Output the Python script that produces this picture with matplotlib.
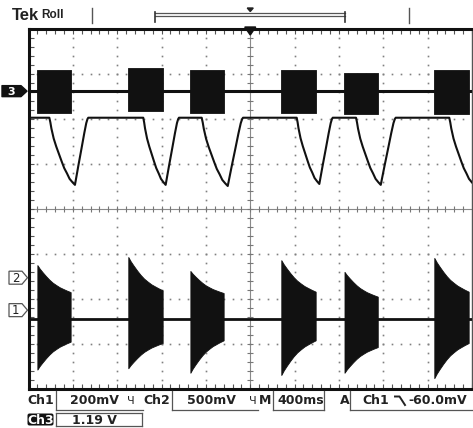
import numpy as np
import matplotlib
matplotlib.use("Agg")
import matplotlib.pyplot as plt
from matplotlib.patches import Polygon, FancyBboxPatch

W, H, DPI = 473, 428, 100

# ---- time base / screen ----
TIME_PER_DIV = 0.4          # s/div (400 ms)
N_XDIV, N_YDIV = 10, 8
MINOR_PER_DIV = 5

# ---- burst windows (s), shared by Ch1 and Ch3 ----
BURST_START = [0.08, 0.90, 1.46, 2.28, 2.85, 3.66]
BURST_END = [0.38, 1.21, 1.76, 2.59, 3.15, 3.97]

# ---- Ch1 (divisions) ----
CH1_BASELINE = -2.45
CH1_TOP_START = [1.20, 1.38, 1.07, 1.31, 1.05, 1.36]
CH1_TOP_END = [0.60, 0.64, 0.58, 0.61, 0.50, 0.61]
CH1_BOT_START = [-1.12, -1.09, -1.19, -1.24, -1.19, -1.31]
CH1_BOT_END = [-0.50, -0.53, -0.47, -0.47, -0.62, -0.53]
ENV_U = [0.0, 0.07, 0.155, 0.26, 0.36, 0.46, 0.567, 0.67, 0.773, 0.88, 1.0]
ENV_F = [0.0, 0.13, 0.26, 0.41, 0.54, 0.65, 0.74, 0.82, 0.88, 0.94, 1.0]

# ---- Ch3 (divisions) ----
CH3_BASELINE = 2.61
CH3_TOP = [3.08, 3.12, 3.08, 3.08, 3.01, 3.08]
CH3_BOT = [2.13, 2.16, 2.12, 2.13, 2.10, 2.10]

# ---- Ch2 (divisions) ----
CH2_HIGH = 2.02
DIP_START = [0.188, 1.035, 1.562, 2.419, 2.954, 3.795]
DIP_MIN_T = [0.419, 1.237, 1.797, 2.623, 3.177, 4.02]
DIP_END = [0.539, 1.357, 1.935, 2.744, 3.312, 4.14]
DIP_LOW = [0.53, 0.53, 0.505, 0.55, 0.53, 0.53]
FALL_U = [0.0, 0.04, 0.08, 0.17, 0.27, 0.375, 0.48, 0.58, 0.69, 0.79, 0.9, 1.0]
FALL_F = [0.0, 0.07, 0.16, 0.31, 0.43, 0.54, 0.65, 0.75, 0.83, 0.91, 0.96, 1.0]
RISE_U = [0.0, 0.25, 0.5, 0.7, 0.85, 0.94, 1.0]
RISE_F = [0.0, 0.28, 0.55, 0.77, 0.92, 0.98, 1.0]

# ---- channel ground markers (divisions) ----
MARKER_LEVEL = {"3": 2.61, "2": -1.53, "1": -2.25}

# ---- readout texts ----
ROW1 = [("Ch1", 27), ("200mV", 70), ("Ch2", 143), ("500mV", 187), ("M", 259),
        ("400ms", 277), ("A", 340), ("Ch1", 362), ("-60.0mV", 408)]
BW_SYMBOL_X = [127, 249]
ROW2_VALUE = "1.19 V"

fig = plt.figure(figsize=(W / DPI, H / DPI), dpi=DPI)
fig.patch.set_facecolor("white")

x0, x1, y0, y1 = 28.5, 472.0, 28.5, 389.0
ax = fig.add_axes([x0 / W, 1 - y1 / H, (x1 - x0) / W, (y1 - y0) / H])
T_END = TIME_PER_DIV * N_XDIV
ax.set_xlim(0, T_END)
ax.set_ylim(-N_YDIV / 2, N_YDIV / 2)
ax.set_facecolor("white")

# spines
for s in ["left", "top", "bottom"]:
    ax.spines[s].set_linewidth(2.2)
    ax.spines[s].set_color("#111111")
ax.spines["right"].set_linewidth(1.0)
ax.spines["right"].set_color("#555555")

ax.set_xticks([])
ax.set_yticks([])
ax.set_xticks(np.arange(0, T_END + 1e-9, TIME_PER_DIV / MINOR_PER_DIV), minor=True)
ax.set_yticks(np.arange(-4, 4 + 1e-9, 1 / MINOR_PER_DIV), minor=True)
ax.tick_params(which="minor", direction="in", length=3.5, width=0.8, color="#555555",
               top=True, bottom=True, left=True, right=False,
               labelbottom=False, labelleft=False)

# dotted graticule
gx = [k * TIME_PER_DIV for k in range(1, N_XDIV) if k != N_XDIV // 2]
gy = [k for k in range(-3, 4) if k != 0]
dots_y = np.arange(-4, 4 + 1e-9, 1 / MINOR_PER_DIV)[1:-1]
dots_x = np.arange(0, T_END + 1e-9, TIME_PER_DIV / MINOR_PER_DIV)[1:-1]
for xv in gx:
    ax.plot([xv] * len(dots_y), dots_y, ls="none", marker="s", ms=1.2,
            mec="none", mfc="#808080", zorder=1)
for yv in gy:
    ax.plot(dots_x, [yv] * len(dots_x), ls="none", marker="s", ms=1.2,
            mec="none", mfc="#808080", zorder=1)

# centre cross with ticks
tc = T_END / 2
ax.axhline(0, color="#8a8a8a", lw=0.8, zorder=1)
ax.axvline(tc, color="#8a8a8a", lw=0.8, zorder=1)
ax.plot(dots_x, np.zeros_like(dots_x), ls="none", marker="|", ms=4.5, mew=0.8,
        color="#777777", zorder=1)
ax.plot(np.full_like(dots_y, tc), dots_y, ls="none", marker="_", ms=4.5, mew=0.8,
        color="#777777", zorder=1)

TRACE = "#111111"

# ---- Ch3 ----
ax.plot([0, T_END], [CH3_BASELINE, CH3_BASELINE], color=TRACE, lw=2.2, zorder=3)
for s, e, top, bot in zip(BURST_START, BURST_END, CH3_TOP, CH3_BOT):
    ax.fill_between([s, e], [bot, bot], [top, top], color=TRACE, lw=0.6, zorder=3)

# ---- Ch1 ----
ax.plot([0, T_END], [CH1_BASELINE, CH1_BASELINE], color=TRACE, lw=2.0, zorder=3)
u = np.array(ENV_U)
f = np.array(ENV_F)
for i in range(len(BURST_START)):
    s, e = BURST_START[i], BURST_END[i]
    t = s + u * (e - s)
    top = CH1_BASELINE + CH1_TOP_START[i] + (CH1_TOP_END[i] - CH1_TOP_START[i]) * f
    bot = CH1_BASELINE + CH1_BOT_START[i] + (CH1_BOT_END[i] - CH1_BOT_START[i]) * f
    ax.fill_between(t, bot, top, color=TRACE, lw=0.6, zorder=3)

# ---- Ch2 ----
ts, vs = [0.0], [CH2_HIGH]
for s, m, e, lo in zip(DIP_START, DIP_MIN_T, DIP_END, DIP_LOW):
    for uu, ff in zip(FALL_U, FALL_F):
        ts.append(s + uu * (m - s))
        vs.append(CH2_HIGH - ff * (CH2_HIGH - lo))
    for uu, ff in zip(RISE_U[1:], RISE_F[1:]):
        ts.append(m + uu * (e - m))
        vs.append(lo + ff * (CH2_HIGH - lo))
ax.plot(ts, vs, color=TRACE, lw=1.5, zorder=3, solid_joinstyle="round")

# ---------------- overlay (pixel coordinates) ----------------
ov = fig.add_axes([0, 0, 1, 1], zorder=5)
ov.set_xlim(0, W)
ov.set_ylim(H, 0)
ov.axis("off")
ov.patch.set_alpha(0)


def ypix(level):
    return H - ax.transData.transform((0, level))[1]


def xpix(t):
    return ax.transData.transform((t, 0))[0]


GRAY = "#555555"
TXT = "#222222"

# header
ov.text(12, 15.5, "Tek", fontsize=12, fontweight="bold", family="Liberation Sans",
        color=TXT, va="center", ha="left")
ov.text(41, 15, "Roll", fontsize=8.5, fontweight="bold", family="Liberation Sans",
        color=TXT, va="center", ha="left")
for xv in [92, 409]:
    ov.plot([xv, xv], [8, 23], color=GRAY, lw=1.0)
ov.plot([155, 345], [12.8, 12.8], color=GRAY, lw=0.9)
ov.plot([155, 345], [15.6, 15.6], color=GRAY, lw=0.9)
ov.plot([155, 155], [11.5, 22], color="#333333", lw=1.2)
ov.plot([345, 345], [11.5, 22], color="#333333", lw=1.2)
xc = xpix(T_END / 2)
ov.add_patch(Polygon([(xc - 3, 8), (xc + 3, 8), (xc, 11.5)], closed=True, color="#222222"))
ov.add_patch(Polygon([(xc - 5.5, 27), (xc + 5.5, 27), (xc, 35)], closed=True, color="#111111"))

# channel markers
c = ypix(MARKER_LEVEL["3"])
ov.add_patch(Polygon([(2, c - 5.5), (21, c - 5.5), (27, c), (21, c + 5.5), (2, c + 5.5)],
                     closed=True, color="#111111", joinstyle="round"))
ov.text(11.5, c + 0.5, "3", color="white", fontsize=8, fontweight="bold",
        ha="center", va="center")
for ch in ["2", "1"]:
    c = ypix(MARKER_LEVEL[ch])
    ov.add_patch(Polygon([(9, c - 6.5), (22, c - 6.5), (27.5, c), (22, c + 6.5), (9, c + 6.5)],
                         closed=True, fc="white", ec=GRAY, lw=0.9))
    ov.text(15.5, c + 0.5, ch, color=TXT, fontsize=8.5, ha="center", va="center")

# readout row 1
ry = 400.5
for txt, xl in ROW1:
    ov.text(xl, ry, txt, fontsize=9, fontweight="bold", color=TXT,
            ha="left", va="center")
for xb in BW_SYMBOL_X:
    ov.text(xb, ry, "Ч", fontsize=8, color=TXT, ha="left", va="center")
# falling edge symbol
ov.plot([395, 399.5, 405], [396.5, 396.5, 405], color=TXT, lw=1.4)

# readout boxes
box_segments = [
    ([56, 56], [391, 409.5]), ([56, 143], [409.5, 409.5]),
    ([171.5, 171.5], [391, 409.5]), ([171.5, 258], [409.5, 409.5]),
    ([272.5, 272.5], [391, 409.5]), ([272.5, 323.5], [409.5, 409.5]),
    ([323.5, 323.5], [391, 409.5]),
    ([350, 350], [391, 409.5]), ([350, 473], [409.5, 409.5]),
    ([56, 56], [413, 426]), ([56, 142], [426, 426]), ([142, 142], [413, 426]),
    ([56, 142], [413, 413]),
]
for xs_, ys_ in box_segments:
    ov.plot(xs_, ys_, color=GRAY, lw=0.9)

# row 2
ov.add_patch(FancyBboxPatch((27.5, 413.5), 26, 12, boxstyle="round,pad=0,rounding_size=2",
                            fc="#111111", ec="none"))
ov.text(40.5, 420, "Ch3", fontsize=9, fontweight="bold", color="white",
        ha="center", va="center")
ov.text(72, 420, ROW2_VALUE, fontsize=9, fontweight="bold", color=TXT,
        ha="left", va="center")

fig.savefig("out.png", dpi=DPI, facecolor="white")
